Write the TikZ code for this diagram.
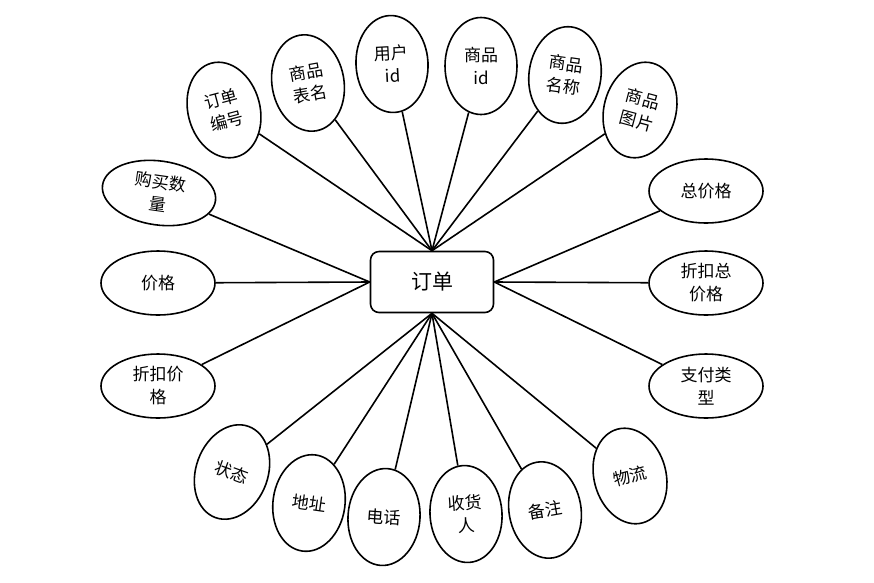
\documentclass[tikz,border=0pt]{standalone}
\usepackage{fontspec}
\setmainfont{Noto Sans CJK SC}
\usetikzlibrary{shapes.geometric}

\begin{document}
\begin{tikzpicture}[
    x=1pt, y=-1pt,
    attr/.style={
        ellipse,
        draw,
        line width=1.6pt,
        inner sep=0pt,
        minimum width=72pt,
        minimum height=97pt,
        align=center,
        font=\fontsize{17}{23}\selectfont
    },
    wide/.style={attr, minimum width=114pt, minimum height=64pt},
    entity/.style={
        rectangle,
        draw,
        line width=1.6pt,
        minimum width=123pt,
        minimum height=61pt,
        rounded corners=0.3cm,
        font=\fontsize{21}{25}\selectfont
    },
    link/.style={line width=1.6pt}
]
\useasboundingbox (0,0) rectangle (874,582);

\node[entity] (order) at (432,282) {订单};

\node[attr, rotate=15] (orderno) at (224,110) {订单\\编号};
\node[attr, rotate=10] (tablename) at (308,83) {商品\\表名};
\node[attr, rotate=3] (userid) at (392,64) {用户\\id};
\node[attr] (goodsid) at (481,66) {商品\\id};
\node[attr, rotate=-8] (goodsname) at (565,75) {商品\\名称};
\node[attr, rotate=-15] (goodspic) at (640,110) {商品\\图片};

\node[wide, rotate=-8] (amount) at (159,193) {购买数\\量};
\node[wide] (price) at (158,283) {价格};
\node[wide] (discount) at (158,386) {折扣价\\格};

\node[wide] (total) at (706,191) {总价格};
\node[wide] (distotal) at (706,283) {折扣总\\价格};
\node[wide] (paytype) at (706,386) {支付类\\型};

\node[attr, rotate=-20] (state) at (232,472) {状态};
\node[attr, rotate=-8] (address) at (309,503) {地址};
\node[attr, rotate=-4] (phone) at (384,517) {电话};
\node[attr, rotate=4] (receiver) at (466,514) {收货\\人};
\node[attr, rotate=10] (remark) at (545,510) {备注};
\node[attr, rotate=15] (logistics) at (630,476) {物流};

\draw[link] (order.north) -- (orderno);
\draw[link] (order.north) -- (tablename);
\draw[link] (order.north) -- (userid);
\draw[link] (order.north) -- (goodsid);
\draw[link] (order.north) -- (goodsname);
\draw[link] (order.north) -- (goodspic);

\draw[link] (order.west) -- (amount);
\draw[link] (order.west) -- (price);
\draw[link] (order.west) -- (discount);

\draw[link] (order.east) -- (total);
\draw[link] (order.east) -- (distotal);
\draw[link] (order.east) -- (paytype);

\draw[link] (order.south) -- (state);
\draw[link] (order.south) -- (address);
\draw[link] (order.south) -- (phone);
\draw[link] (order.south) -- (receiver);
\draw[link] (order.south) -- (remark);
\draw[link] (order.south) -- (logistics);

\end{tikzpicture}
\end{document}
